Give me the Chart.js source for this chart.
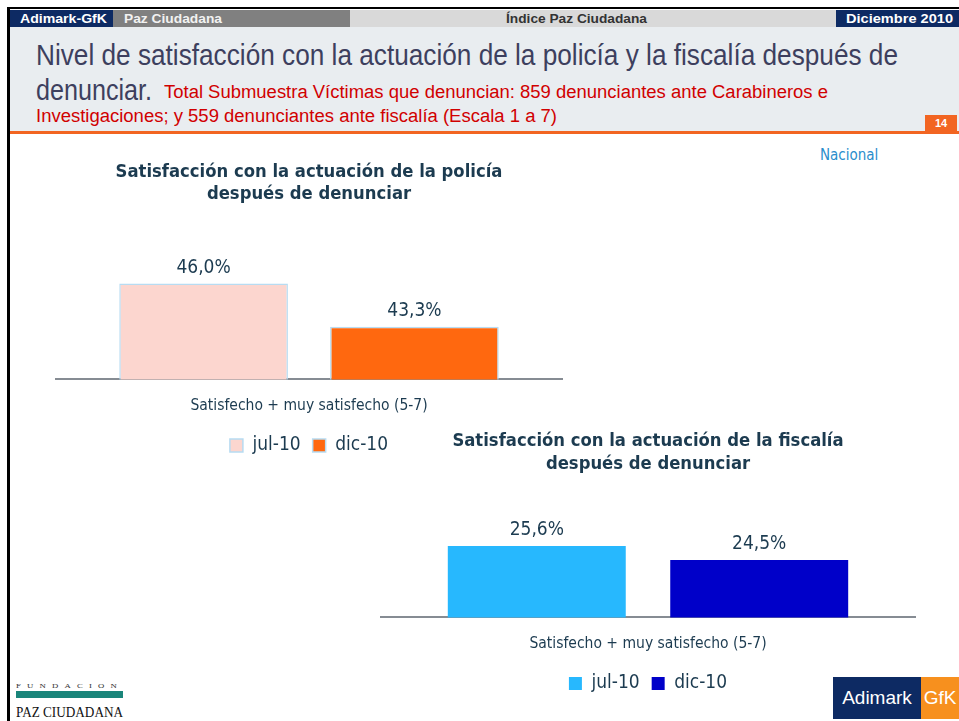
<!DOCTYPE html>
<html>
<head>
<meta charset="utf-8">
<script src="https://cdn.jsdelivr.net/npm/chart.js@4.4.0/dist/chart.umd.min.js"></script>
<style>
body{margin:0;width:959px;height:721px;overflow:hidden;background:#fff;position:relative;font-family:"Liberation Sans",Arial,sans-serif}
.abs{position:absolute;white-space:nowrap}
.fit{transform-origin:0 50%}
#frame{left:7px;top:7px;width:960px;height:720px;border-left:3px solid #000;border-top:2px solid #000}
.hbox{top:10px;height:17px;line-height:17px;font-weight:bold;font-size:13px}
#titlebg{left:10px;top:27px;width:949px;height:104px;background:#e9edf0}
#orange{left:10px;top:131px;width:949px;height:3px;background:#f26522}
#page{left:925px;top:115px;width:32px;height:16px;background:#f26522;color:#fff;font-weight:bold;font-size:11px;line-height:17px;text-align:center}
.big{font-size:29px;color:#3d3f5e}
.red{font-size:18px;color:#d10000}
#nacional{left:820px;top:146px;font-size:15px;color:#2a8dcc;font-family:"DejaVu Sans Condensed","DejaVu Sans",sans-serif}
canvas{position:absolute}
</style>
</head>
<body>
<div id="frame" class="abs"></div>
<div class="abs hbox" style="left:10px;width:103px;background:#0d2a63"></div>
<div class="abs hbox" style="left:113px;width:237px;background:#808080"></div>
<div class="abs hbox" style="left:350px;width:486px;background:#d9d9d9"></div>
<div class="abs hbox" style="left:836px;width:123px;background:#0d2a63"></div>
<span class="abs hbox fit" data-w="87" style="left:20px;color:#fff">Adimark-GfK</span>
<span class="abs hbox fit" data-w="98" style="left:124px;color:#f2f2f2">Paz Ciudadana</span>
<span class="abs hbox fit" data-w="141" style="left:506px;color:#333">Índice Paz Ciudadana</span>
<span class="abs hbox fit" data-w="107" style="left:846px;color:#fff">Diciembre 2010</span>
<div id="titlebg" class="abs"></div>
<div id="orange" class="abs"></div>
<div id="page" class="abs">14</div>
<span class="abs big fit" data-w="862" style="left:36px;top:39px">Nivel de satisfacción con la actuación de la policía y la fiscalía después de</span>
<span class="abs big fit" data-w="116" style="left:36px;top:74px">denunciar.</span>
<span class="abs red fit" data-w="664" style="left:164px;top:82px">Total Submuestra Víctimas que denuncian: 859 denunciantes ante Carabineros e</span>
<span class="abs red fit" data-w="521" style="left:36px;top:106px">Investigaciones; y 559 denunciantes ante fiscalía (Escala 1 a 7)</span>
<span id="nacional" class="abs">Nacional</span>

<canvas id="policia" width="508" height="314" style="left:55px;top:151px"></canvas>
<canvas id="fiscalia" width="536" height="284" style="left:380px;top:419px"></canvas>

<span class="abs fit" data-w="107" style="left:16px;top:682px;font-size:7px;letter-spacing:5px;font-family:'Liberation Serif',serif;color:#333">FUNDACION</span>
<div class="abs" style="left:16px;top:691px;width:107px;height:7px;background:#1a857a"></div>
<span class="abs fit" data-w="107" style="left:16px;top:704px;font-size:15px;font-family:'Liberation Serif',serif;color:#111">PAZ CIUDADANA</span>
<div class="abs" style="left:833px;top:677px;width:88px;height:42px;background:#0d2a63;color:#fff;font-size:19px;line-height:42px;text-align:center">Adimark</div>
<div class="abs" style="left:921px;top:677px;width:38px;height:42px;background:#f7901e;color:#fff;font-size:19px;line-height:42px;text-align:center">GfK</div>

<script>
// valores
const categories = ['Satisfecho + muy satisfecho (5-7)'];
const seriesNames = ['jul-10', 'dic-10'];
const policiaTitle = ['Satisfacción con la actuación de la policía', 'después de denunciar'];
const fiscaliaTitle = ['Satisfacción con la actuación de la fiscalía', 'después de denunciar'];
const policiaValues = [46.0, 43.3];
const fiscaliaValues = [25.6, 24.5];

const textColor = '#1c3b50';
const chartFont = '"DejaVu Sans Condensed", "DejaVu Sans", sans-serif';

// stretch header texts to the width they have on the slide
document.querySelectorAll('.fit').forEach(function (el) {
    let w = Number(el.dataset.w);
    el.style.transform = 'scaleX(' + (w / el.getBoundingClientRect().width) + ')';
});

// draws "46,0%" style labels over each bar
const valueLabels = {
    id: 'valueLabels',
    afterDatasetsDraw(chart) {
        const ctx = chart.ctx;
        ctx.save();
        ctx.font = '19px ' + chartFont;
        ctx.fillStyle = textColor;
        ctx.textAlign = 'center';
        ctx.textBaseline = 'middle';
        chart.data.datasets.forEach(function (ds, i) {
            chart.getDatasetMeta(i).data.forEach(function (bar, j) {
                let txt = ds.data[j].toFixed(1).replace('.', ',') + '%';
                ctx.fillText(txt, bar.x, bar.y - 16);
            });
        });
        ctx.restore();
    }
};

function make_bar_chart(canvas_name, title, values, colors, border, ymin, ymax, title_bottom, line_height) {
    let datasets = [];
    for (let i = 0; i < seriesNames.length; i++) {
        datasets.push({
            label: seriesNames[i],
            data: [values[i]],
            backgroundColor: colors[i],
            borderColor: border,
            borderWidth: border ? 1.5 : 0
        });
    }
    return new Chart(document.getElementById(canvas_name), {
        type: 'bar',
        data: { labels: categories, datasets: datasets },
        options: {
            responsive: false,
            animation: false,
            layout: { padding: 0 },
            datasets: { bar: { categoryPercentage: 0.83, barPercentage: 0.8 } },
            plugins: {
                title: {
                    display: true,
                    text: title,
                    color: textColor,
                    font: { family: chartFont, size: 18.3, weight: 'bold', lineHeight: line_height },
                    padding: { top: 10, bottom: title_bottom }
                },
                legend: {
                    position: 'bottom',
                    labels: {
                        color: textColor,
                        font: { family: chartFont, size: 19 },
                        boxWidth: 13,
                        boxHeight: 13,
                        padding: 12
                    }
                },
                tooltip: { enabled: false }
            },
            scales: {
                x: {
                    grid: { display: false, drawTicks: false },
                    border: { display: true, color: '#868c93', width: 2 },
                    ticks: { color: textColor, font: { family: chartFont, size: 15.5 }, padding: 17 },
                    afterFit(scale) { scale.height -= 8; }
                },
                y: { display: false, min: ymin, max: ymax }
            }
        },
        plugins: [valueLabels]
    });
}

make_bar_chart('policia', policiaTitle, policiaValues, ['#fcd6cf', '#ff680f'], '#b7dcf2', 40, 48, 46.7, 1.2);
make_bar_chart('fiscalia', fiscaliaTitle, fiscaliaValues, ['#27b8fe', '#0000c9'], null, 20, 28, 38.9, 1.3);
</script>
</body>
</html>
